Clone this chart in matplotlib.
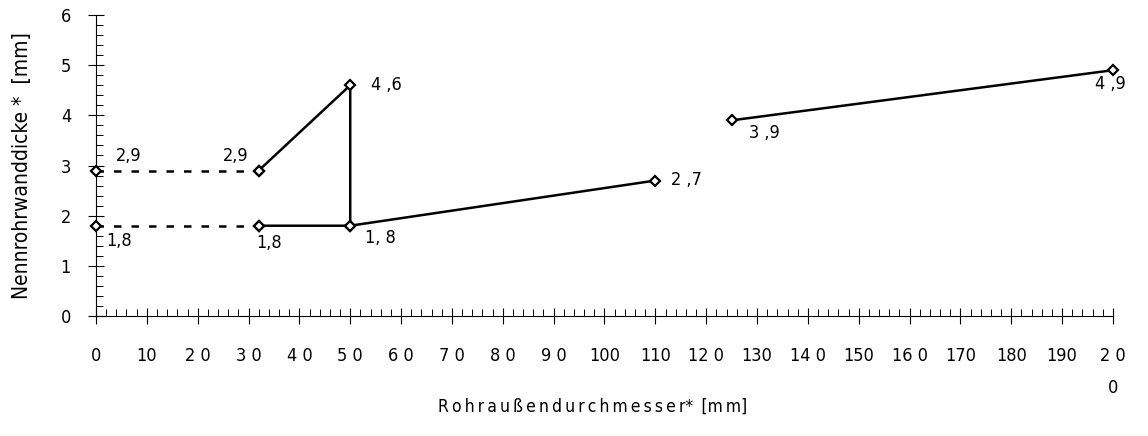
#!/usr/bin/env python3
"""Nennrohrwanddicke ueber Rohraussendurchmesser."""

import matplotlib
matplotlib.use("Agg")
import matplotlib.pyplot as plt
from matplotlib.ticker import MultipleLocator

# dashed links from the axis
dash_x = [[0, 32], [0, 32]]
dash_y = [[2.9, 2.9], [1.8, 1.8]]

# solid segments
solid_x = [[32, 50, 50], [32, 50, 110], [125, 200]]
solid_y = [[2.9, 4.6, 1.8], [1.8, 1.8, 2.7], [3.9, 4.9]]

# point labels: text, x, y
label_txt = ["2,9", "2,9", "4 ,6", "1,8", "1,8", "1, 8", "2 ,7", "3 ,9", "4 ,9"]
label_x = [4, 25, 54, 2, 31.5, 53, 113, 128.5, 196.5]
label_y = [3.18, 3.18, 4.6, 1.5, 1.45, 1.55, 2.72, 3.65, 4.62]

x_ticks = list(range(0, 201, 10))
x_ticklabels = ["0", "10", "2 0", "3 0", "4 0", "5 0", "6 0", "7 0", "8 0", "9 0",
                "100", "110", "12 0", "130", "14 0", "150", "16 0", "170", "180",
                "190", "2 0\n0"]
y_ticks = [0, 1, 2, 3, 4, 5, 6]

x_title = "Rohraußendurchmesser"
y_title = "Nennrohrwanddicke *  [mm]"

plt.rcParams["font.family"] = ["DejaVu Sans"]
plt.rcParams["font.stretch"] = "condensed"

fig = plt.figure(figsize=(11.48, 4.36), dpi=100)
ax = fig.add_axes([0.0836, 0.2752, 0.8859, 0.6904])

for xs, ys in zip(dash_x, dash_y):
    ax.plot(xs, ys, color="black", lw=1.8, ls=(0, (3, 4)), clip_on=False)
    ax.plot(xs, ys, ls="none", marker="D", ms=5, mfc="white", mec="black",
            mew=1.6, clip_on=False, zorder=5)
for xs, ys in zip(solid_x, solid_y):
    ax.plot(xs, ys, color="black", lw=1.8, clip_on=False)
    ax.plot(xs, ys, ls="none", marker="D", ms=5, mfc="white", mec="black",
            mew=1.6, clip_on=False, zorder=5)

for t, x, y in zip(label_txt, label_x, label_y):
    ax.text(x, y, t, fontsize=13, va="center", ha="left")

ax.set_xlim(0, 200)
ax.set_ylim(0, 6)
ax.spines["top"].set_visible(False)
ax.spines["right"].set_visible(False)
ax.spines["left"].set_linewidth(0.8)
ax.spines["bottom"].set_linewidth(0.8)

ax.set_xticks(x_ticks)
ax.set_xticklabels(x_ticklabels, fontsize=13, va="top", linespacing=2.0)
ax.set_yticks(y_ticks)
ax.set_yticklabels([str(v) for v in y_ticks], fontsize=13)
ax.xaxis.set_minor_locator(MultipleLocator(2))
ax.yaxis.set_minor_locator(MultipleLocator(0.2))
ax.tick_params(axis="both", which="major", direction="inout", length=12, width=0.8)
ax.tick_params(axis="x", which="major", pad=16)
ax.tick_params(axis="y", which="major", pad=12)
ax.tick_params(axis="both", which="minor", direction="in", length=5, width=0.7)

# letter-spaced x title, like the typewriter original
spaced = "\u2009".join(x_title) + "*\u2009 [m\u2009m]"
ax.set_xlabel(spaced, fontsize=12.5)
ax.xaxis.set_label_coords(0.488, -0.27)
ax.set_ylabel(y_title, fontsize=15)
ax.yaxis.set_label_coords(-0.063, 0.5)

fig.savefig("out.png", dpi=100)
plt.close(fig)
